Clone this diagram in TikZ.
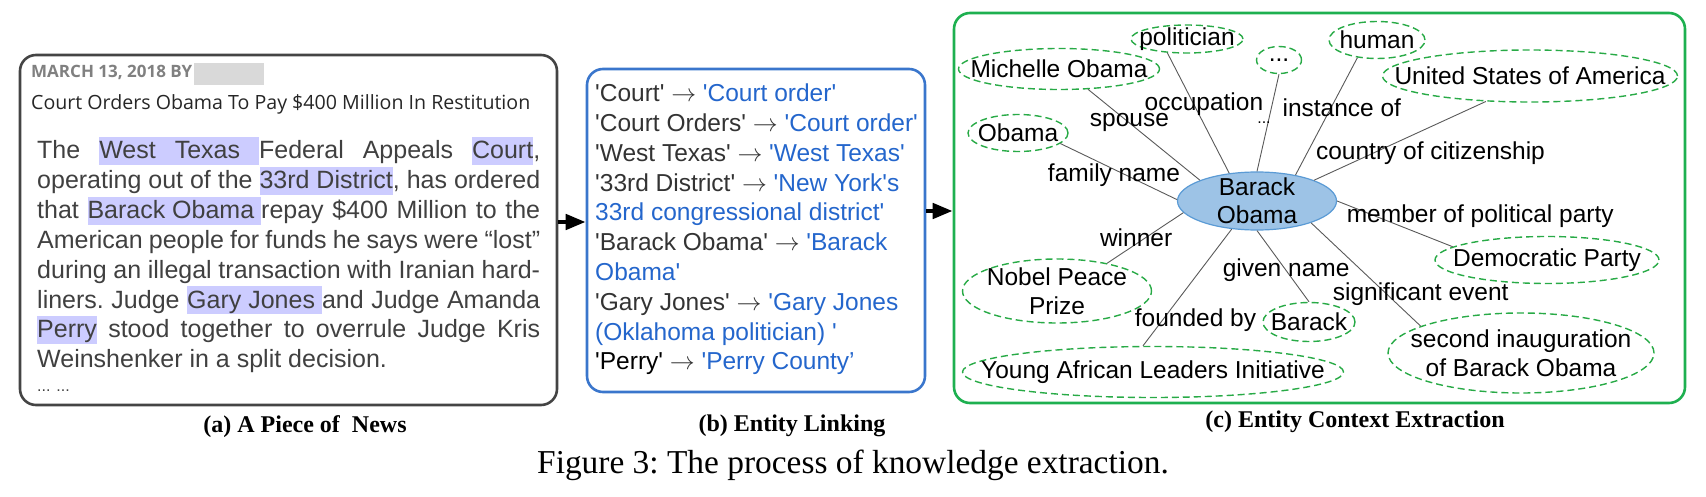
\documentclass[tikz,border=0pt]{standalone}
\usepackage{fontspec}
\setmainfont{Liberation Serif}
\newfontfamily\arial{Liberation Sans}
\newfontfamily\opensans{Open Sans}
\usetikzlibrary{shapes.geometric,arrows.meta,positioning}

\definecolor{newsgray}{RGB}{68,68,68}
\definecolor{txtgray}{RGB}{64,64,64}
\definecolor{hlblue}{RGB}{204,204,255}
\definecolor{linkblue}{RGB}{36,102,204}
\definecolor{boxblue}{RGB}{58,118,204}
\definecolor{boxgreen}{RGB}{30,176,80}
\definecolor{entgreen}{RGB}{40,170,70}
\definecolor{bofill}{RGB}{157,195,230}
\definecolor{bodraw}{RGB}{91,155,213}

\newcommand{\newsfont}{\arial\fontsize{25}{30}\selectfont\frenchspacing}
\newcommand{\ctxfont}{\arial\fontsize{24.5}{29}\selectfont}
\newcommand{\hlword}[1]{{\setlength{\fboxsep}{0pt}\colorbox{hlblue}{\rule[-6pt]{0pt}{28pt}#1}}}
\newcommand{\ent}[1]{\textcolor{linkblue}{#1}}

\begin{document}
\begin{tikzpicture}[x=1pt,y=-1pt,
    panel/.style={draw=#1,line width=2.6pt,rounded corners=16pt,inner sep=0pt},
    ent/.style={ellipse,draw=entgreen,line width=1.4pt,dash pattern=on 7pt off 4pt,inner sep=0pt},
    every label/.style={font=\ctxfont,align=center,inner sep=0pt},
    rel/.style={font=\ctxfont,inner sep=0pt},
    link/.style={draw=black!65,line width=0.9pt},
    flow/.style={-{Triangle[length=20pt,width=15pt]},line width=4.5pt},
    subcap/.style={font=\bfseries\fontsize{24}{28}\selectfont}]

    \tikzstyle{newsline}=[anchor=base west,font=\newsfont,text=txtgray,inner sep=0pt]
    \tikzstyle{linkline}=[anchor=base west,font=\arial\fontsize{24.5}{29}\selectfont,text=black!80,inner sep=0pt]

    \useasboundingbox (0,0) rectangle (1706,497);

    % the three panels
    \node[panel=newsgray,minimum width=537pt,minimum height=350pt] (news) at (288.5,230) {};
    \node[panel=boxblue,minimum width=338pt,minimum height=323pt] (linking) at (756,230.5) {};
    \node[panel=boxgreen,minimum width=731pt,minimum height=390pt] (ctx) at (1319.5,208) {};

    \draw[flow] ([yshift=8pt]news.east) -- ([yshift=8pt]news.east -| linking.west);
    \draw[flow] ([yshift=19.5pt]linking.east) -- ([yshift=19.5pt]linking.east -| ctx.west);

    % (a) news
    \node[anchor=base west,inner sep=0pt,font=\opensans\bfseries\fontsize{17}{19}\selectfont,text=black!50] (date) at (31,77.5) {MARCH 13, 2018 BY};
    \node[fill=black!15,minimum width=70pt,minimum height=22pt,inner sep=0pt,anchor=west] (blur) at (194,74) {};
    \node[anchor=base west,inner sep=0pt,font=\opensans\fontsize{19.6}{24}\selectfont,text=black!85] (title) at (31,110) {Court Orders Obama To Pay \$400 Million In Restitution};

    \foreach \ln [count=\i from 0] in {
        {The\hspace{19pt}\hlword{West\hspace{19pt}Texas\hspace{19pt}}Federal Appeals \hlword{Court},},
        {operating out of the \hlword{33rd District}, has ordered},
        {that \hlword{Barack Obama }repay \$400 Million to the},
        {American people for funds he says were “lost”},
        {during an illegal transaction with Iranian hard-},
        {liners. Judge \hlword{Gary Jones }and Judge Amanda},
        {\hlword{Perry} stood together to overrule Judge Kris}}
        \node[newsline] (line\i) at (37,{159+29.8*\i}) {\makebox[503pt][s]{\ln}};
    \node[newsline] (line7) at (37,367.6) {Weinshenker in a split decision.};
    \node[newsline,font=\arial\fontsize{16}{16}\selectfont] (more) at (37,391) {... ...};

    % (b) entity linking
    \foreach \ln [count=\i from 0] in {
        {'Court' $\rightarrow$ \ent{'Court order'}},
        {'Court Orders' $\rightarrow$ \ent{'Court order'}},
        {'West Texas' $\rightarrow$ \ent{'West Texas'}},
        {'33rd District' $\rightarrow$ \ent{'New York's}},
        {\ent{33rd congressional district'}},
        {'Barack Obama' $\rightarrow$ \ent{'Barack}},
        {\ent{Obama'}},
        {'Gary Jones' $\rightarrow$ \ent{'Gary Jones}},
        {\ent{(Oklahoma politician) '}},
        {\textcolor{black}{'Perry'} $\rightarrow$ \ent{'Perry County’}}}
        \node[linkline] (el\i) at (595,{101.7+29.8*\i}) {\ln};

    % (c) entity context
    \node[ellipse,fill=bofill,draw=bodraw,line width=1.2pt,inner sep=0pt,minimum width=159pt,minimum height=58pt,
          label={[font=\arial\fontsize{24.5}{28}\selectfont]center:Barack\\Obama}] (bo) at (1257,201) {};

    \node[ent,minimum width=112pt,minimum height=28pt,label=center:politician] (pol) at (1187,39) {};
    \node[ent,minimum width=45pt,minimum height=27pt,label=center:...] (dots) at (1279,60) {};
    \node[ent,minimum width=201pt,minimum height=41pt,label=center:Michelle Obama] (mich) at (1059,69) {};
    \node[ent,minimum width=100pt,minimum height=37pt,label=center:Obama] (obama) at (1018,133) {};
    \node[ent,minimum width=96pt,minimum height=37pt,label=center:human] (human) at (1377,40) {};
    \node[ent,minimum width=295pt,minimum height=52pt,label=center:United States of America] (usa) at (1530,76) {};
    \node[ent,minimum width=189pt,minimum height=64pt,label={center:Nobel Peace\\Prize}] (nobel) at (1057,291) {};
    \node[ent,minimum width=92pt,minimum height=39pt,label=center:Barack] (barack) at (1309,322) {};
    \node[ent,minimum width=381pt,minimum height=51pt,label=center:Young African Leaders Initiative] (yali) at (1153,372) {};
    \node[ent,minimum width=224pt,minimum height=47pt,label=center:Democratic Party] (dem) at (1547,260) {};
    \node[ent,minimum width=266pt,minimum height=80pt,label={center:second inauguration\\of Barack Obama}] (inaug) at (1521,353) {};

    \draw[link] (bo.135) -- node[rel,pos=.57,xshift=10pt] (rOcc) {occupation} (pol.-145);
    \draw[link] (bo.90) -- node[rel,pos=.5,xshift=-4pt,font=\arial\fontsize{16}{16}\selectfont] (rDots) {...} (dots.-90);
    \draw[link] (bo.160) -- node[rel,pos=.63] (rSpouse) {spouse} (mich.-35);
    \draw[link] (bo.179) -- node[rel,pos=.54,yshift=-6pt] (rFam) {family name} (obama.-14);
    \draw[link] (bo.189) -- node[rel,pos=.62,yshift=6pt] (rWin) {winner} (nobel.29);
    \draw[link] (bo.34) -- node[rel,pos=.57,xshift=11pt] (rInst) {instance of} (human.-138);
    \draw[link] (bo.20) -- node[rel,pos=.34,xshift=58pt] (rCit) {country of citizenship} (usa.-150);
    \draw[link] (bo.0) -- node[rel,pos=.33,xshift=105pt] (rParty) {member of political party} (dem.172);
    \draw[link] (bo.-22) -- node[rel,pos=.69,xshift=34pt] (rEvent) {significant event} (inaug.165);
    \draw[link] (bo.-90) -- node[rel,pos=.56] (rGiven) {given name} (barack.90);
    \draw[link] (bo.-132) -- node[rel,pos=.78,xshift=33pt] (rFound) {founded by} (yali.111);

    % captions
    \node[subcap] (capa) at (305,427) {(a) A Piece of\ \ News};
    \node[subcap] (capb) at (792,426) {(b) Entity Linking};
    \node[subcap] (capc) at (1355,422) {(c) Entity Context Extraction};
    \node[font=\fontsize{33.4}{38}\selectfont\frenchspacing] (fig) at (853,465) {Figure 3: The process of knowledge extraction.};
\end{tikzpicture}
\end{document}
